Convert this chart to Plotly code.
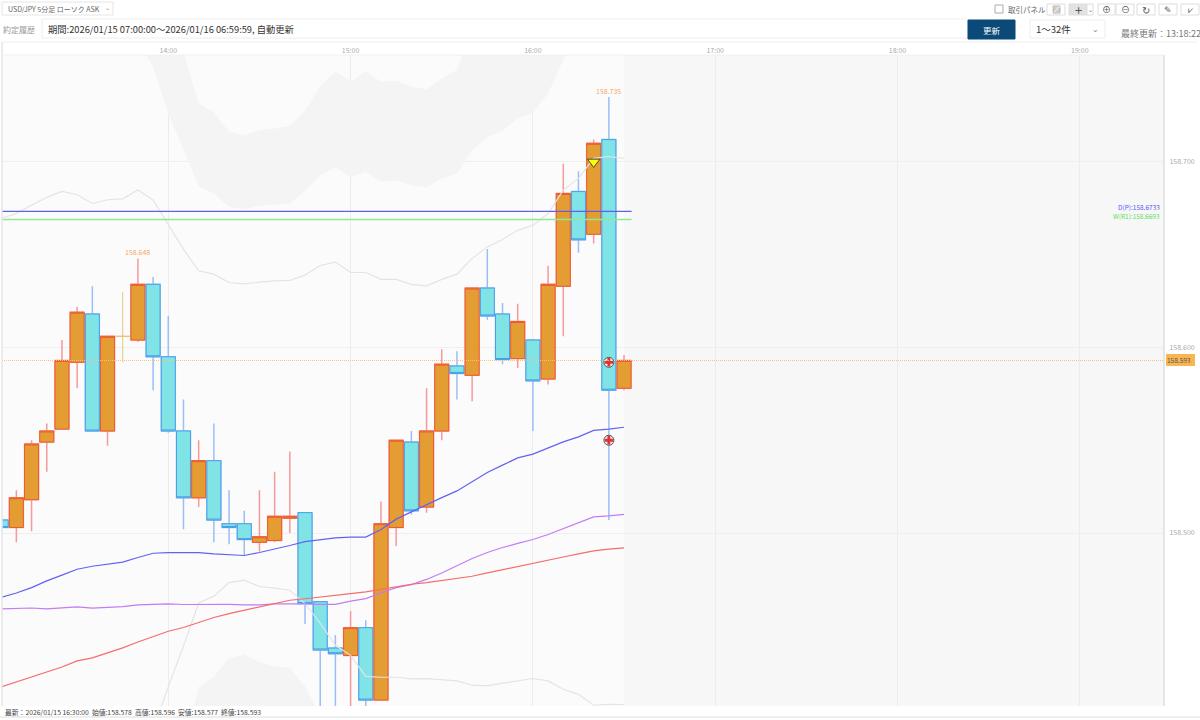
import pandas as pd
import plotly.graph_objects as go

# 5分足 (13:05 - 16:30)
times = pd.date_range("2026-01-15 13:05:00", periods=42, freq="5min")

opens = [158.507, 158.503, 158.518, 158.549, 158.556, 158.592, 158.618, 158.555, 158.606, 158.604,
         158.634, 158.595, 158.555, 158.519, 158.539, 158.505, 158.505, 158.495, 158.496, 158.508,
         158.511, 158.463, 158.438, 158.434, 158.449, 158.410, 158.503, 158.549, 158.514, 158.555,
         158.590, 158.585, 158.632, 158.618, 158.594, 158.604, 158.583, 158.633, 158.684, 158.661,
         158.712, 158.578]
highs = [158.507, 158.523, 158.550, 158.559, 158.604, 158.622, 158.633, 158.606, 158.630, 158.648,
         158.638, 158.617, 158.572, 158.550, 158.559, 158.523, 158.512, 158.523, 158.533, 158.544,
         158.511, 158.463, 158.445, 158.458, 158.453, 158.517, 158.550, 158.555, 158.578, 158.599,
         158.598, 158.632, 158.653, 158.624, 158.6235, 158.604, 158.644, 158.699, 158.695, 158.712,
         158.735, 158.596]
lows = [158.503, 158.495, 158.501, 158.533, 158.556, 158.578, 158.555, 158.547, 158.592, 158.603,
        158.577, 158.554, 158.502, 158.514, 158.495, 158.494, 158.488, 158.490, 158.495, 158.500,
        158.451, 158.400, 158.400, 158.400, 158.406, 158.410, 158.493, 158.510, 158.511, 158.550,
        158.572, 158.571, 158.615, 158.591, 158.589, 158.555, 158.580, 158.606, 158.651, 158.656,
        158.507, 158.577]
closes = [158.503, 158.519, 158.548, 158.555, 158.593, 158.619, 158.555, 158.606, 158.606, 158.634,
          158.595, 158.555, 158.519, 158.539, 158.507, 158.503, 158.4965, 158.498, 158.509, 158.509,
          158.462, 158.437, 158.435, 158.449, 158.410, 158.505, 158.550, 158.512, 158.555, 158.591,
          158.586, 158.632, 158.617, 158.5935, 158.614, 158.582, 158.634, 158.683, 158.658, 158.710,
          158.577, 158.593]

ma_blue = [158.4654, 158.4677, 158.4706, 158.4742, 158.4773, 158.4805, 158.4821, 158.4830, 158.4843, 158.4868,
           158.4891, 158.4895, 158.4895, 158.4895, 158.4888, 158.4882, 158.4879, 158.4895, 158.4913, 158.4933,
           158.4954, 158.4965, 158.4974, 158.4978, 158.4978, 158.5019, 158.5075, 158.5114, 158.5154, 158.5191,
           158.5227, 158.5276, 158.5326, 158.5366, 158.5405, 158.5425, 158.5459, 158.5491, 158.5518, 158.5553,
           158.5560, 158.5570]
ma_purple = [158.4591, 158.4595, 158.4596, 158.4591, 158.4595, 158.4602, 158.4595, 158.4599, 158.4604, 158.4613,
             158.4616, 158.4618, 158.4615, 158.4616, 158.4618, 158.4616, 158.4613, 158.4613, 158.4618, 158.4620,
             158.4618, 158.4616, 158.4616, 158.4633, 158.4647, 158.4678, 158.4706, 158.4722, 158.4750, 158.4785,
             158.4825, 158.4863, 158.4895, 158.4922, 158.4944, 158.4965, 158.4992, 158.5024, 158.5055, 158.5087,
             158.5092, 158.5101]
ma_red = [158.4171, 158.4198, 158.4225, 158.4251, 158.4278, 158.4311, 158.4327, 158.4354, 158.4381, 158.4413,
          158.4444, 158.4471, 158.4491, 158.4518, 158.4545, 158.4566, 158.4584, 158.4602, 158.4620, 158.4638,
          158.4646, 158.4654, 158.4663, 158.4674, 158.4683, 158.4696, 158.4713, 158.4724, 158.4733, 158.4744,
          158.4753, 158.4767, 158.4785, 158.4803, 158.4821, 158.4837, 158.4857, 158.4871, 158.4888, 158.4904,
          158.4913, 158.4920]

# ボリンジャー (灰色の線)
band_up = [158.6695, 158.6722, 158.6767, 158.6809, 158.6841, 158.6823, 158.6776, 158.6796, 158.6801, 158.6849,
           158.6794, 158.6659, 158.6530, 158.6413, 158.6395, 158.6350, 158.6343, 158.6352, 158.6359, 158.6361,
           158.6390, 158.6442, 158.6460, 158.6404, 158.6404, 158.6367, 158.6367, 158.6340, 158.6332, 158.6367,
           158.6395, 158.6480, 158.6542, 158.6582, 158.6632, 158.6658, 158.6722, 158.6848, 158.6911, 158.7019,
           158.7029, 158.7019]
band_low = [None, None, None, None, None, None, None, None, None, None,
            158.3937, 158.4171, 158.4392, 158.4623, 158.4660, 158.4733, 158.4746, 158.4712, 158.4703, 158.4692,
            158.4620, 158.4514, 158.4395, 158.4341, 158.4228, 158.4223, 158.4223, 158.4214, 158.4216, 158.4211,
            158.4203, 158.4180, 158.4176, 158.4191, 158.4203, 158.4216, 158.4203, 158.4158, 158.4131, 158.4072,
            158.4077, 158.4076]

# 灰色の雲 (上側は 13:50 以降, 下側は 14:05 - 14:50)
cloud_top_low = [158.7646, 158.7512, 158.7261, 158.7063, 158.6869, 158.6830, 158.6758, 158.6745, 158.6763, 158.6771,
                 158.6776, 158.6845, 158.6928, 158.6973, 158.6916, 158.6946, 158.6893, 158.6898, 158.6875, 158.6862,
                 158.6911, 158.6938, 158.7063, 158.7132, 158.7171, 158.7234, 158.7264, 158.7369, 158.7549, 158.7710,
                 158.7872, 158.7899, 158.7888]
cloud_top_high = [158.8357, 158.8114, 158.7850, 158.7592, 158.7315, 158.7267, 158.7162, 158.7143, 158.7171, 158.7180,
                  158.7193, 158.7276, 158.7408, 158.7489, 158.7432, 158.7489, 158.7432, 158.7437, 158.7405, 158.7391,
                  158.7450, 158.7495, 158.7710, 158.7818, 158.7872, 158.7953, 158.7980, 158.8088, 158.8250, 158.8357,
                  158.8519, 158.8546, 158.8530]
cloud_bottom = [158.3843, 158.4171, 158.4225, 158.4327, 158.4345, 158.4305, 158.4282, 158.4273, 158.4174, 158.4015]

pivot_d = 158.6733
pivot_w = 158.6690
last_price = 158.593
y_ticks = [158.5, 158.6, 158.7]

FONT = "Noto Sans CJK JP"
ORANGE, ORANGE_LINE, RED_WICK = "#e49d33", "#ee5a30", "#f59a9a"
CYAN, CYAN_LINE, BLUE_WICK = "#80e4e6", "#4a9fe8", "#9dbdf5"

df = pd.DataFrame({"t": times, "o": opens, "h": highs, "l": lows, "c": closes})
df["top"] = df[["o", "c"]].max(axis=1)
df["bot"] = df[["o", "c"]].min(axis=1)
doji = df[df.o == df.c]
candles = df[df.o != df.c]

fig = go.Figure()

# 雲
fig.add_trace(go.Scatter(x=times[9:], y=cloud_top_high, mode="lines", line=dict(width=0), hoverinfo="skip"))
fig.add_trace(go.Scatter(x=times[9:], y=cloud_top_low, mode="lines", line=dict(width=0), fill="tonexty",
                         fillcolor="#f4f4f4", hoverinfo="skip"))
fig.add_trace(go.Scatter(x=times[12:22], y=cloud_bottom, mode="lines", line=dict(width=0), fill="tozeroy",
                         fillcolor="#f4f4f4", hoverinfo="skip"))

# ヒゲ
fig.add_trace(go.Candlestick(x=candles.t, open=candles.o, high=candles.h, low=candles.l, close=candles.c,
                             increasing=dict(line=dict(color=RED_WICK, width=1.5), fillcolor=RED_WICK),
                             decreasing=dict(line=dict(color=BLUE_WICK, width=1.5), fillcolor=BLUE_WICK)))
# 実体
fig.add_trace(go.Candlestick(x=candles.t, open=candles.o, high=candles.top, low=candles.bot, close=candles.c,
                             increasing=dict(line=dict(color=ORANGE_LINE, width=1), fillcolor=ORANGE),
                             decreasing=dict(line=dict(color=CYAN_LINE, width=1), fillcolor=CYAN)))
# 同値足
fig.add_trace(go.Candlestick(x=doji.t, open=doji.o, high=doji.h, low=doji.l, close=doji.c,
                             increasing=dict(line=dict(color="#e3c77a", width=1)),
                             decreasing=dict(line=dict(color="#e3c77a", width=1))))

for values, color in [(band_up, "#e4e4e4"), (band_low, "#e4e4e4"),
                      (ma_blue, "#6262f2"), (ma_purple, "#c27cf6"), (ma_red, "#f56c6c")]:
    fig.add_trace(go.Scatter(x=times, y=values, mode="lines", line=dict(color=color, width=1.2), hoverinfo="skip"))

# ピボット
line_end = times[-1] + pd.Timedelta(minutes=2.5)
fig.add_trace(go.Scatter(x=[times[0], line_end], y=[pivot_d, pivot_d], mode="lines",
                         line=dict(color="#6060e0", width=1.2), hoverinfo="skip"))
fig.add_trace(go.Scatter(x=[times[0], line_end], y=[pivot_w, pivot_w], mode="lines",
                         line=dict(color="#90e890", width=1.5), hoverinfo="skip"))

# 売買マーク
fig.add_trace(go.Scatter(x=[times[39]], y=[158.700], mode="markers",
                         marker=dict(symbol="triangle-down", size=11, color="#ffff00",
                                     line=dict(color="#444444", width=1)), hoverinfo="skip"))
fig.add_trace(go.Scatter(x=[times[40], times[40]], y=[158.592, 158.550], mode="markers",
                         marker=dict(symbol="circle", size=10, color="#eeeeee",
                                     line=dict(color="#555555", width=1)), hoverinfo="skip"))
fig.add_trace(go.Scatter(x=[times[40], times[40]], y=[158.592, 158.550], mode="markers",
                         marker=dict(symbol="cross", size=7, color="#e0303a"), hoverinfo="skip"))


# 画面ピクセル -> paper座標 (プロット領域 x:2-1163, y:55-706)
def px(x):
    return (x - 2) / 1161


def py(y):
    return (706 - y) / 651


def box(x0, y0, x1, y1, fill="#ffffff", line="#e6e6e6"):
    fig.add_shape(type="rect", xref="paper", yref="paper", x0=px(x0), x1=px(x1), y0=py(y0), y1=py(y1),
                  fillcolor=fill, line=dict(color=line, width=1), layer="above")


def label(x, y, text, size=8, color="#555555", anchor="left", **kw):
    fig.add_annotation(xref="paper", yref="paper", x=px(x), y=py(y), text=text, showarrow=False,
                       xanchor=anchor, yanchor="middle", borderpad=0, align=anchor,
                       font=dict(family=FONT, size=size, color=color), **kw)


# チャート未来側の背景
fig.add_shape(type="rect", xref="x", yref="paper", x0=times[-1], x1="2026-01-15 19:27:23", y0=0, y1=1,
              fillcolor="#f7f7f7", line=dict(width=0), layer="below")
fig.add_hline(y=last_price, line=dict(color="#f7c37a", width=1, dash="1px,1px"))

# 外枠
fig.add_shape(type="line", xref="paper", yref="paper", x0=px(2), x1=px(1197), y0=py(42), y1=py(42),
              line=dict(color="#eeeeee", width=1))
fig.add_shape(type="line", xref="paper", yref="paper", x0=px(2), x1=px(2), y0=py(42), y1=py(706),
              line=dict(color="#e6e6e6", width=1.5))
fig.add_shape(type="line", xref="paper", yref="paper", x0=px(0), x1=px(1200), y0=py(717), y1=py(717),
              line=dict(color="#eeeeee", width=2))
fig.add_shape(type="line", xref="paper", yref="paper", x0=px(2), x1=px(1163), y0=py(55), y1=py(55),
              line=dict(color="#f0f0f0", width=1))

# ヘッダー
box(2, 2, 113, 15)
label(7, 9, "USD/JPY 5分足 ローソク ASK", size=7, color="#666666")
label(111, 8, "⌄", size=6, color="#888888", anchor="right")
label(2, 29.5, "約定履歴", size=8, color="#999999")
box(42, 19, 968, 38, line="#eeeeee")
label(47, 29, "期間:2026/01/15 07:00:00～2026/01/16 06:59:59, 自動更新", size=9.3, color="#333333")
box(968, 20, 1015, 39, fill="#0b4a78", line="#0b4a78")
label(991.5, 29.5, "更新", size=8.5, color="#ffffff", anchor="center")
box(1030, 20, 1105, 38, line="#eeeeee")
label(1035, 29, "1～32件", size=9.5, color="#333333")
label(1100, 28, "⌄", size=8, color="#888888", anchor="right")
label(1120, 33.5, "最終更新：13:18:22", size=9, color="#777777")

# ツールバー
box(995, 5, 1003, 13, line="#aaaaaa")
label(1007, 9.5, "取引パネル", size=7.5, color="#666666")
for x0, x1, fill, glyph, size in [(1047, 1065, "#ffffff", "▨", 9), (1069, 1087, "#e2e2e2", "+", 13),
                                  (1087, 1093, "#ffffff", "⌄", 6), (1098, 1115, "#ffffff", "⊕", 9),
                                  (1116, 1134, "#ffffff", "⊖", 9), (1137, 1155, "#ffffff", "↻", 10),
                                  (1159, 1177, "#ffffff", "✎", 9), (1181, 1199, "#ffffff", "⩗", 9)]:
    box(x0, 4, x1, 15, fill=fill, line="#dddddd")
    label((x0 + x1) / 2, 9.5, glyph, size=size, color="#555555", anchor="center")

# 価格ラベル
label(1161, 207.5, "D(P):158.6733", size=6.5, color="#5a5af5", anchor="right")
label(1161, 215.5, "W(R1):158.6693", size=6.5, color="#62dc62", anchor="right")
label(1166, 360.5, "158.593", size=6.5, color="#555555", bgcolor="#f8b551", bordercolor="#f8b551", width=27)
label(4, 712, "最新：2026/01/15 16:30:00 &#160;始値:158.578 &#160;高値:158.596 &#160;安値:158.577 &#160;終値:158.593",
      size=6.8, color="#444444")

for i, text in [(9, "158.648"), (40, "158.735")]:
    fig.add_annotation(x=times[i], y=highs[i], text=text, showarrow=False, yanchor="bottom", yshift=-1,
                       font=dict(family=FONT, size=7, color="#f5a86a"))

fig.update_layout(
    width=1200, height=720,
    margin=dict(l=2, r=37, t=55, b=14, autoexpand=False),
    paper_bgcolor="#ffffff", plot_bgcolor="#fbfbfb",
    showlegend=False,
    boxmode="overlay", boxgap=0.08, boxgroupgap=0,
    font=dict(family=FONT),
)
fig.update_xaxes(range=["2026-01-15 13:05:16", "2026-01-15 19:27:23"], side="top", dtick=3600000,
                 tick0="2026-01-15 14:00:00", tickformat="%H:%M", rangeslider_visible=False,
                 showgrid=True, gridcolor="#ececec", gridwidth=1, zeroline=False,
                 tickfont=dict(size=7, color="#aaaaaa"), ticks="", ticklen=0)
fig.update_yaxes(range=[158.4068, 158.7576], side="right", tickvals=y_ticks, tickformat=".3f",
                 showgrid=True, gridcolor="#efefef", gridwidth=1, zeroline=False,
                 showline=True, linecolor="#e6e6e6", linewidth=2,
                 tickfont=dict(size=7, color="#aaaaaa"), ticks="outside", ticklen=3, tickcolor="#ffffff")

# ページの余白を消して 1200x720 に合わせる
fig.write_html("out.html", config={"displayModeBar": False}, post_script="document.body.style.margin='0';")
